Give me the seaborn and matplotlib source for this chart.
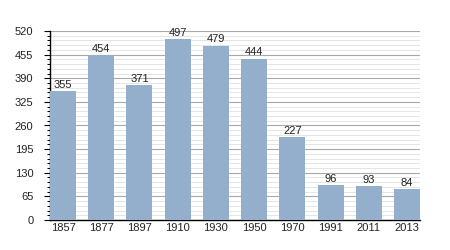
import matplotlib
matplotlib.use("Agg")
import matplotlib.pyplot as plt
import seaborn as sns
import pandas as pd

years = ["1857", "1877", "1897", "1910", "1930", "1950", "1970", "1991", "2011", "2013"]
population = [355, 454, 371, 497, 479, 444, 227, 96, 93, 84]
yticks = [0, 65, 130, 195, 260, 325, 390, 455, 520]
minor_step = 13

df = pd.DataFrame({"year": years, "pop": population})

sns.set_theme(style="white")
plt.rcParams["font.family"] = ["Liberation Sans", "DejaVu Sans"]

fig = plt.figure(figsize=(4.5, 2.5), dpi=100)
ax = fig.add_axes([50/450, 30/250, 370/450, 189/250])

sns.barplot(data=df, x="year", y="pop", color="#94afcc", saturation=1,
            width=0.68, ax=ax, zorder=3, linewidth=0, edgecolor="none")

ax.set_ylim(0, 520)
ax.set_xlim(-0.34, 9.34)
ax.set_yticks(yticks)
ax.set_yticks([v for v in range(0, 521, minor_step) if v % 65 != 0], minor=True)
ax.grid(axis="y", which="major", color="#a8a8a8", linewidth=0.8, zorder=0)
ax.grid(axis="y", which="minor", color="#e0e0e0", linewidth=0.6, zorder=0)
ax.set_axisbelow(True)

for s in ["top", "right"]:
    ax.spines[s].set_visible(False)
for s in ["left", "bottom"]:
    ax.spines[s].set_color("black")
    ax.spines[s].set_linewidth(1.0)

ax.tick_params(axis="y", which="major", left=True, length=4, width=0.8,
               color="black", labelsize=8, labelcolor="#222222", pad=8)
ax.tick_params(axis="y", which="minor", left=True, length=2.5, width=0.7, color="black")
ax.tick_params(axis="x", bottom=False, length=0, labelsize=8, labelcolor="#222222", pad=2)
ax.set_xlabel("")
ax.set_ylabel("")

for i, v in enumerate(population):
    ax.text(i, v + 4, str(v), ha="center", va="bottom", fontsize=8, color="#222222")

fig.savefig("out.png", dpi=100)
